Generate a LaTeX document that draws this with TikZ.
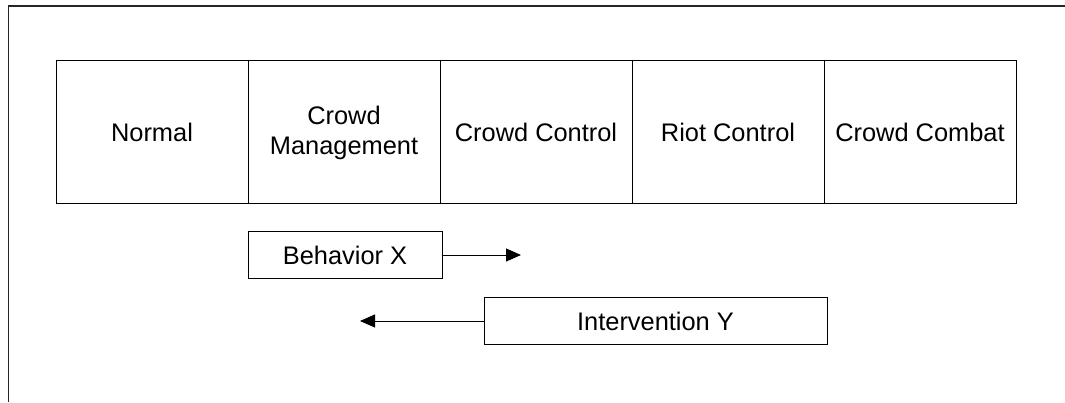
\documentclass[tikz,border=0pt]{standalone}
\usepackage{fontspec}
\setmainfont{Liberation Sans}
\usetikzlibrary{arrows.meta}
\begin{document}
\begin{tikzpicture}[x=1pt,y=1pt,
  cell/.style={draw=black, line width=1pt, minimum width=192pt, minimum height=143pt,
    inner sep=0pt, align=center, font=\fontsize{25.4}{30}\selectfont},
  smallbox/.style={draw=black, line width=1pt, minimum height=47pt, inner sep=0pt,
    font=\fontsize{25.4}{30}\selectfont},
  arr/.style={line width=1pt, -{Triangle[length=15pt,width=13pt]}},
  frame/.style={line width=1.3pt, draw=black!85}]
\useasboundingbox (0,0) rectangle (1065,402);
\draw[frame] (8.5,0) -- (8.5,396) -- (1065,396);
\node[cell] (normal) at (152,269.5) {Normal};
\node[cell] (mgmt) at (344,269.5) {Crowd\\Management};
\node[cell] (ctrl) at (536,269.5) {Crowd Control};
\node[cell] (riot) at (728,269.5) {Riot Control};
\node[cell] (combat) at (920,269.5) {Crowd Combat};
\node[smallbox, minimum width=194pt] (bx) at (345,147) {Behavior X};
\node[smallbox, minimum width=343pt] (iy) at (655.5,81) {Intervention Y};
\coordinate (bxend) at (521,147);
\coordinate (iyend) at (360,81);
\draw[arr] (bx.east) -- (bxend);
\draw[arr] (iy.west) -- (iyend);
\end{tikzpicture}
\end{document}
